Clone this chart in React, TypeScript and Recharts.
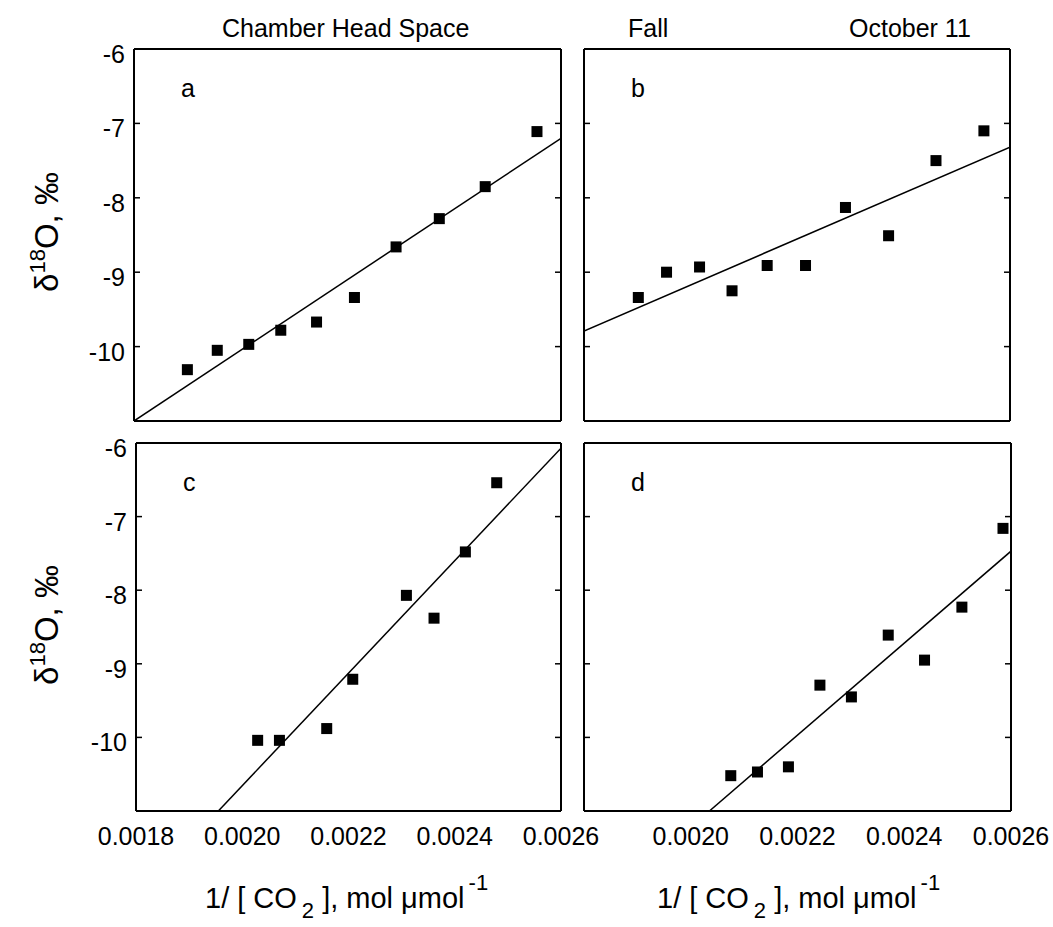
import React from 'react';
import { ScatterChart, Scatter, XAxis, YAxis } from 'recharts';

const W = 1053;
const H = 927;
const FONT = '"Liberation Sans", Arial, Helvetica, sans-serif';

// axis ticks
const X_TICKS = [0.0018, 0.002, 0.0022, 0.0024, 0.0026];
const X_TICKS_D = [0.002, 0.0022, 0.0024, 0.0026];
const X_INNER = [0.002, 0.0022, 0.0024];
const Y_TICKS = [-10, -9, -8, -7, -6];
const Y_INNER = [-10, -9, -8, -7];

// panel a
const A_X = [0.0019, 0.001956, 0.002015, 0.002075, 0.002142, 0.002213, 0.002291, 0.002372, 0.002458, 0.002555];
const A_Y = [-10.31, -10.05, -9.97, -9.78, -9.67, -9.34, -8.66, -8.28, -7.85, -7.11];
const A_FIT_X = [0.0018, 0.0026];
const A_FIT_Y = [-11, -7.2];

// panel b
const B_X = [0.001902, 0.001955, 0.002017, 0.002078, 0.002144, 0.002216, 0.002291, 0.002372, 0.002461, 0.002551];
const B_Y = [-9.34, -9.0, -8.93, -9.25, -8.91, -8.91, -8.13, -8.51, -7.5, -7.1];
const B_FIT_X = [0.0018, 0.0026];
const B_FIT_Y = [-9.79, -7.32];

// panel c
const C_X = [0.002029, 0.00207, 0.002159, 0.002208, 0.002309, 0.002361, 0.00242, 0.002479];
const C_Y = [-10.04, -10.04, -9.88, -9.21, -8.07, -8.38, -7.48, -6.54];
const C_FIT_X = [0.001955, 0.0026];
const C_FIT_Y = [-11, -6.07];

// panel d
const D_X = [0.002075, 0.002125, 0.002183, 0.002242, 0.002301, 0.00237, 0.002438, 0.002508, 0.002585];
const D_Y = [-10.52, -10.47, -10.4, -9.29, -9.45, -8.61, -8.95, -8.23, -7.16];
const D_FIT_X = [0.002035, 0.0026];
const D_FIT_Y = [-11, -7.47];

const zip = (xs: number[], ys: number[]) => xs.map((x, i) => ({ x, y: ys[i] }));

const frame = { stroke: '#000', strokeWidth: 2 };
const tickStroke = { stroke: '#000', strokeWidth: 1.5 };

type PanelProps = {
  margin: { top: number; left: number; right: number; bottom: number };
  points: { x: number; y: number }[];
  fit: { x: number; y: number }[];
  letter: string;
  xLabels?: number[];
  yLabels?: boolean;
};

const Square = (p: any) => (
  <rect x={p.cx - 5.5} y={p.cy - 5.5} width={11} height={11} fill="#000" />
);

const NoShape = () => <g />;
const NoLabel = () => <g />;

function Panel({ margin, points, fit, letter, xLabels, yLabels }: PanelProps) {
  const xTick = (p: any) => (
    <text x={p.x} y={p.y + 34} textAnchor="middle" fontSize={25} fontFamily={FONT} fill="#000">
      {Number(p.payload.value).toFixed(4)}
    </text>
  );
  const yTick = (p: any) => (
    <text x={p.x} y={p.y + 14} textAnchor="end" fontSize={25} fontFamily={FONT} fill="#000">
      {p.payload.value}
    </text>
  );

  // the two non-mirrored axes take 1px each
  const m = { ...margin, left: margin.left - 1, bottom: margin.bottom - 1 };

  return (
    <div style={{ position: 'absolute', left: 0, top: 0 }}>
      <ScatterChart width={W} height={H} margin={m}>
        <XAxis
          xAxisId="x"
          dataKey="x"
          type="number"
          domain={[0.0018, 0.0026]}
          allowDataOverflow
          height={1}
          ticks={xLabels ?? X_TICKS}
          interval={0}
          tickLine={false}
          tickSize={0}
          tickMargin={0}
          axisLine={frame}
          tick={xLabels ? xTick : false}
        />
        <XAxis
          xAxisId="xm"
          type="number"
          domain={[0.0018, 0.0026]}
          allowDataOverflow
          height={1}
          mirror
          ticks={X_INNER}
          interval={0}
          tickSize={6}
          tickLine={tickStroke}
          axisLine={false}
          tick={NoLabel}
        />
        <XAxis
          xAxisId="xt"
          orientation="top"
          type="number"
          domain={[0.0018, 0.0026]}
          allowDataOverflow
          height={1}
          mirror
          ticks={X_INNER}
          interval={0}
          tickSize={6}
          tickLine={tickStroke}
          axisLine={frame}
          tick={NoLabel}
        />
        <YAxis
          yAxisId="y"
          dataKey="y"
          type="number"
          domain={[-11, -6]}
          allowDataOverflow
          width={1}
          ticks={Y_TICKS}
          interval={0}
          tickLine={false}
          tickSize={0}
          tickMargin={9}
          axisLine={frame}
          tick={yLabels ? yTick : false}
        />
        <YAxis
          yAxisId="ym"
          type="number"
          domain={[-11, -6]}
          allowDataOverflow
          width={1}
          mirror
          ticks={Y_INNER}
          interval={0}
          tickSize={6}
          tickLine={tickStroke}
          axisLine={false}
          tick={NoLabel}
        />
        <YAxis
          yAxisId="yr"
          orientation="right"
          type="number"
          domain={[-11, -6]}
          allowDataOverflow
          width={1}
          mirror
          ticks={Y_INNER}
          interval={0}
          tickSize={6}
          tickLine={tickStroke}
          axisLine={frame}
          tick={NoLabel}
        />
        <Scatter
          xAxisId="x"
          yAxisId="y"
          data={fit}
          line={{ stroke: '#000', strokeWidth: 1.5 }}
          shape={NoShape}
          isAnimationActive={false}
        />
        <Scatter
          xAxisId="x"
          yAxisId="y"
          data={points}
          shape={Square}
          isAnimationActive={false}
        />
      </ScatterChart>
      <svg width={W} height={H} style={{ position: 'absolute', left: 0, top: 0, pointerEvents: 'none' }}>
        <text x={margin.left + 47} y={margin.top + 48} fontSize={25} fontFamily={FONT} fill="#000">
          {letter}
        </text>
      </svg>
    </div>
  );
}

function YLabel({ cy }: { cy: number }) {
  return (
    <text transform={`translate(58,${cy}) rotate(-90)`} textAnchor="middle" fontSize={33} fontFamily={FONT} fill="#000">
      δ<tspan dy={-13} fontSize={22}>18</tspan>
      <tspan dy={13}>O, ‰</tspan>
    </text>
  );
}

function XLabel({ x }: { x: number }) {
  return (
    <text x={x} y={908} fontSize={29} fontFamily={FONT} fill="#000">
      1/ [ CO
      <tspan dx={5} dy={10} fontSize={22}>2</tspan>
      <tspan dy={-10}> ], mol μmol</tspan>
      <tspan dx={4} dy={-18} fontSize={22}>-1</tspan>
    </text>
  );
}

export default function App() {
  return (
    <div style={{ position: 'absolute', left: 0, top: 0, width: W, height: H, background: '#fff' }}>
      <Panel margin={{ top: 49, left: 134, right: W - 561, bottom: H - 421 }} points={zip(A_X, A_Y)} fit={zip(A_FIT_X, A_FIT_Y)} letter="a" yLabels />
      <Panel margin={{ top: 49, left: 584, right: W - 1010, bottom: H - 421 }} points={zip(B_X, B_Y)} fit={zip(B_FIT_X, B_FIT_Y)} letter="b" />
      <Panel margin={{ top: 443, left: 136, right: W - 561, bottom: H - 811 }} points={zip(C_X, C_Y)} fit={zip(C_FIT_X, C_FIT_Y)} letter="c" yLabels xLabels={X_TICKS} />
      <Panel margin={{ top: 443, left: 584, right: W - 1011, bottom: H - 811 }} points={zip(D_X, D_Y)} fit={zip(D_FIT_X, D_FIT_Y)} letter="d" xLabels={X_TICKS_D} />
      <svg width={W} height={H} style={{ position: 'absolute', left: 0, top: 0, pointerEvents: 'none' }}>
        <text x={222} y={37} fontSize={25} fontFamily={FONT} fill="#000">Chamber Head Space</text>
        <text x={628} y={37} fontSize={25} fontFamily={FONT} fill="#000">Fall</text>
        <text x={849} y={37} fontSize={25} fontFamily={FONT} fill="#000">October 11</text>
        <YLabel cy={232} />
        <YLabel cy={625} />
        <XLabel x={205} />
        <XLabel x={657} />
      </svg>
    </div>
  );
}
